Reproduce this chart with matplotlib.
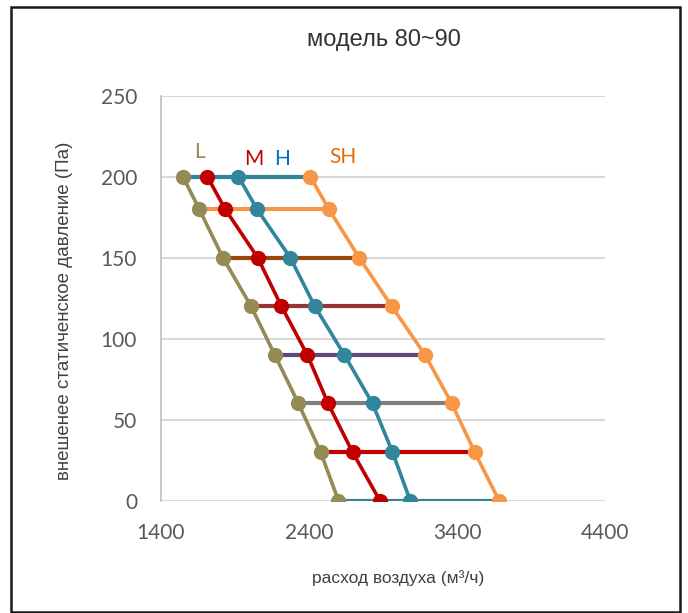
import numpy as np
import matplotlib
matplotlib.use("Agg")
import matplotlib.pyplot as plt
from matplotlib.patches import Rectangle

# static pressure levels (Pa)
pressure = [200, 180, 150, 120, 90, 60, 30, 0]

# airflow (m3/h) for each fan speed
flow_L = [1550, 1660, 1820, 2010, 2170, 2330, 2480, 2600]
flow_M = [1715, 1835, 2055, 2215, 2390, 2530, 2695, 2880]
flow_H = [1925, 2050, 2275, 2440, 2640, 2830, 2965, 3085]
flow_SH = [2410, 2535, 2740, 2960, 3185, 3365, 3520, 3685]

speed_names = ["L", "M", "H", "SH"]
speed_colors = ["#948A54", "#C00000", "#31859C", "#F79646"]
text_colors = ["#948A54", "#C00000", "#0070C0", "#E46C0A"]
label_pos = [(1659, 215), (2030, 211), (2219, 211), (2631, 212)]

# colour of the line joining L..SH at each pressure level
level_colors = ["#31849B", "#F79646", "#984807", "#943634",
                "#604A7B", "#7F7F7F", "#C00000", "#31849B"]

x_ticks = [1400, 2400, 3400, 4400]
y_ticks = [0, 50, 100, 150, 200, 250]

fig = plt.figure(figsize=(6.88, 6.13), dpi=100)
ax = fig.add_axes([0.2336, 0.1832, 0.6458, 0.6607])

# horizontal lines between slowest and fastest speed
for p, x0, x1, c in zip(pressure, flow_L, flow_SH, level_colors):
    ax.plot([x0, x1], [p, p], color=c, lw=3, solid_capstyle="butt", zorder=2)

for flows, c in zip([flow_L, flow_M, flow_H, flow_SH], speed_colors):
    ax.plot(flows, pressure, color=c, lw=2.6, marker="o", ms=11,
            markeredgewidth=0, zorder=3)

for name, (lx, ly), c in zip(speed_names, label_pos, text_colors):
    ax.text(lx, ly, name, color=c, fontsize=15, family="Lato",
            ha="center", va="center")

ax.set_xlim(1400, 4400)
ax.set_ylim(0, 250)
ax.set_xticks(x_ticks)
ax.set_yticks(y_ticks)
ax.grid(axis="y", color="#D9D9D9", lw=1.5)
ax.set_axisbelow(True)
for s in ["top", "right", "bottom"]:
    ax.spines[s].set_visible(False)
ax.spines["left"].set_color("#BFBFBF")
ax.spines["left"].set_linewidth(1.2)
ax.tick_params(length=0, labelsize=15, labelcolor="#595959")
ax.tick_params(axis="y", pad=17)
ax.tick_params(axis="x", pad=16)
for lab in ax.get_xticklabels() + ax.get_yticklabels():
    lab.set_family("Lato")

ax.set_xlabel("расход воздуха (м³/ч)", fontsize=12.5, family="Liberation Sans",
              color="#404040")
ax.xaxis.set_label_coords(0.534, -0.171)
ax.set_ylabel("внешенее статиченское давление (Па)", fontsize=13.5,
              family="Liberation Sans", color="#404040")
ax.yaxis.set_label_coords(-0.197, 0.47)

fig.text(0.558, 0.935, "модель 80~90", fontsize=17, family="Liberation Sans",
         color="#333333", ha="center", va="center")

fig.patches.append(Rectangle((0.016, 0.002), 0.972, 0.987,
                             transform=fig.transFigure, fill=False,
                             edgecolor="#1a1a1a", lw=1.8))

fig.savefig("out.png", dpi=100)
